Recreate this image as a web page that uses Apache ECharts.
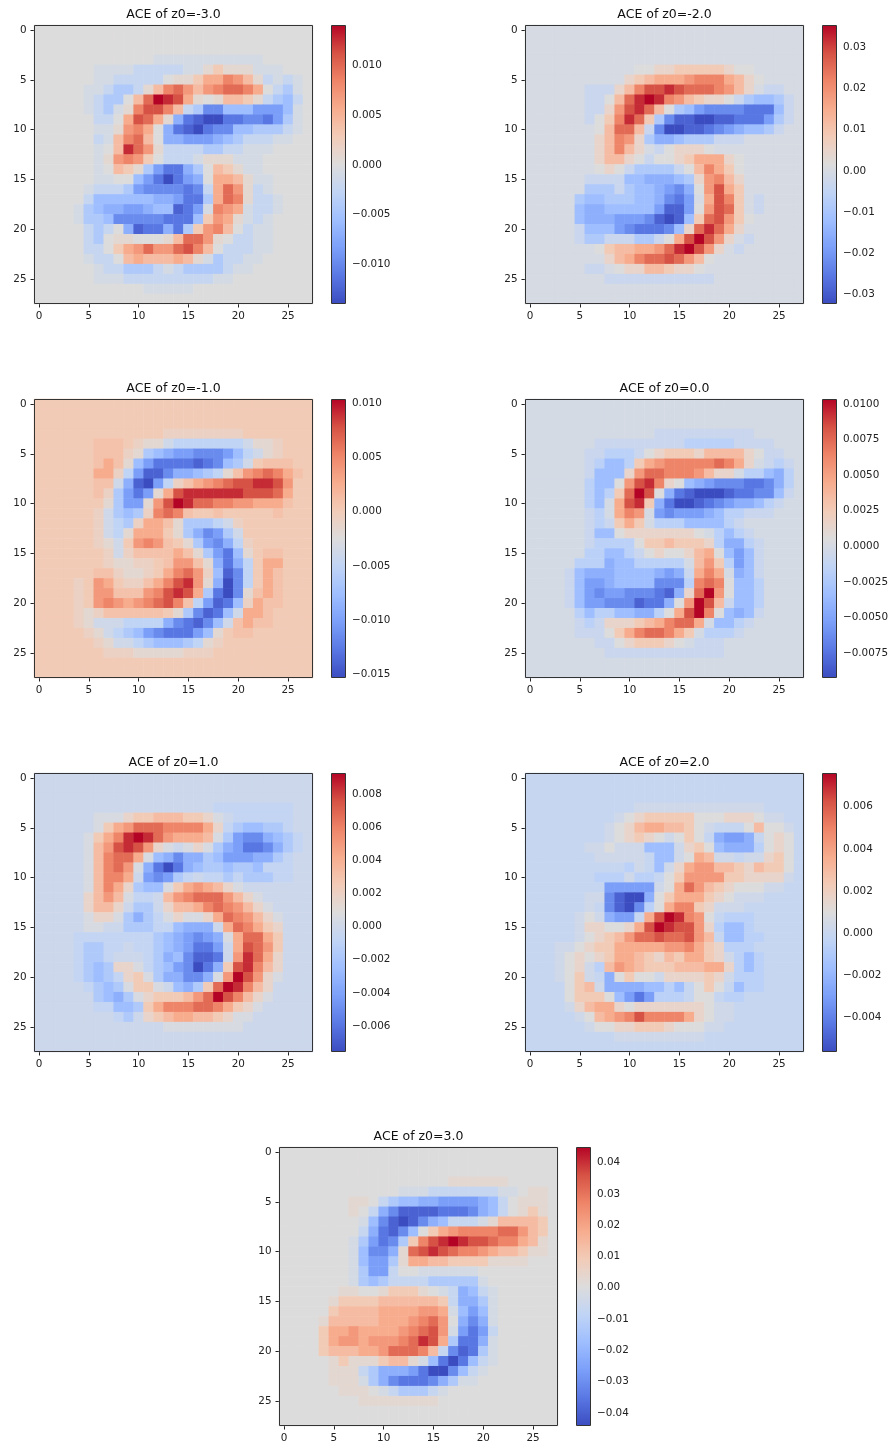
<!DOCTYPE html>
<html><head><meta charset="utf-8">
<style>html,body{margin:0;padding:0;background:#fff}#c{width:891px;height:1445px}</style>
<script src="https://cdn.jsdelivr.net/npm/echarts@6/dist/echarts.min.js"></script>
</head><body><div id="c"></div>
<script>
// Cell shades. A..U = 21 equal steps from each panel's colour-bar bottom to its top.
const rowsZm3 = ["","","",
"KKKKKKKKKKKKJJJJJJJJJJJKKKKK",
"KKKKKKJJJJIIIIIJJLMLLLJJJKKK",
"KKKKKKJJIIIIIKLLMOOQPNLIJIJK",
"KKKKKJJIHHILNQRPNPQRRQOKIHJK",
"KKKKKJIHHKNRUTSOLKLNNMLIHGIK",
"KKKKKJIHJLQSSQNIHDDGGGEEEGJK",
"KKKKKKIIKOSROLFCBAACCDDCEHJK",
"KKKKKKJJLPQOKFCBACDDGGHHHIJK",
"KKKKKKIJNQRNKFFEEEFGHIIIJJKK",
"KKKKKKJKNTRPLIIIIHHIIJJJKKKK",
"KKKKKKJLPQPMKIIIJLLLJJJKKKKK",
"KKKKKKJKNMLHECCFHKNMLJJKKKKK",
"KKKKKKJJKKGECACEFKOONLJJKKKK",
"KKKKKJIIIHEDDDDCDIORPLIJKKKK",
"KKKKKIGGGGGGFFECCHORQLIIJKKK",
"KKKKJHGFFEEFGGBCEJQPOJIIJKKK",
"KKKKJHHGDDDDDCCCGMPOLJIJKKKK",
"KKKKKIHIKFBCCFCHMPQNKIJJKKKK",
"KKKKKIHKLLKKKLNRRPLKIIJJKKKK",
"KKKKKIIKMOPRPPRSQNKIIIJJKKKK",
"KKKKKJIIKNONNNONLJHIIJJKKKKK",
"KKKKKKJIIHHHIJIHHHHIJJKKKKKK",
"KKKKKKJJJIIIIIIIIIJJKKKKKKKK",
"KKKKKKKKKKKJJJJJKKKKKKKKKKKK",
""];
const rowsZm2 = ["","","","",
"JJJJJJJJJJJKKLLMMMMMLKKJJJJJ",
"JJJJJJJJJJLMNOOOPQQQONLKJJJJ",
"JJJJJJIIILNQSSTSRRRQPNLJIIJJ",
"JJJJJJIIKNRTUTQPNMLLKIHGGHIJ",
"JJJJJJIILPSTRNKHGEDDDDCCCGIJ",
"JJJJJJIKMQTRMHDBBAABBCCCEHIJ",
"JJJJJJJKNRRNIDAABBCDEFGGHIJJ",
"JJJJJJJLNQPLHFFGHHHIIIJJJJJJ",
"JJJJJJJLNQNLJIKLLLKJJJJJJJJJ",
"JJJJJJJLNNLKIKKLMOOOLKJJJJJJ",
"JJJJJJJKLKIHHHHIKNQOMKJJJJJJ",
"JJJJJJIIIIGGFFFGHLPQNLJJJJJJ",
"JJJJJJHHHIHGGFEDFKPSOMJJJJJJ",
"JJJJJHGGHHHGGFDCEJOSQMJIJJJJ",
"JJJJJGFFGGGGGEBBEKPSRMJIJJJJ",
"JJJJJGFFFEEEDBABGMRSPMKJJJJJ",
"JJJJJIGGGEDCCCDGLRTROLJJJJJJ",
"JJJJJIHHIIIHHIKOSUSPLJIJJJJJ",
"JJJJJJJKMNNOOPRTUSPLJIJJJJJJ",
"JJJJJJJJLNOQRRSRPNKJJJJJJJJJ",
"JJJJJJIIJKLLNNMLLKJJJJJJJJJJ",
"JJJJJJJJIIIIIIIIIIIJJJJJJJJJ",
"",""];
const rowsZm1 = ["","","",
"MMMMMMMMMMMMMLLLLLLLLMMMMMMM",
"MMMMMMNNNMLKKJIIIIIIIJKKLMMM",
"MMMMMMNNNLKHGFEEDDDEGIJKLMMM",
"MMMMMMNONKGECCCCBCDGHJMNNNMM",
"MMMMMMOOLIEBBDFFGHIKNPQRQONM",
"MMMMMMNNJFBAEILNOPQRSSTTSPMM",
"MMMMMMNLHECEKOSTTTTTTSSSROMM",
"MMMMMMMKHEEKPSUTRRQQPPOOONMM",
"MMMMMMLJHGHLQRQNMMNMMMMMNMMM",
"MMMMMMLJIHLOONKHHHIJLMMMMMMM",
"MMMMMMLJIKOOOMKHFDEHJMMMMMMM",
"MMMMMMLKJMPQPNMKHEDFILMMMMMM",
"MMMMMMMLJLNNNNONKHECGKMNNMMM",
"MMMMMMMLKKLLMNPPNKFCFIMOOMMM",
"MMMMMMNNLKKLMOQRPLGBDIMONMMM",
"MMMMLMPOMLLNOQSTPKFADIMONMMM",
"MMMMLMPPNNNPQSTSOHCADKNONMMM",
"MMMMLMPQPOPQRSQNIEBCGLONNMMM",
"MMMMLKLNNNNNNMKHDBCGJOONMMMM",
"MMMMLKJJJIIIIFDCBDGJNONNMMMM",
"MMMMMLKJIHGEDCCCEGKMNNMMMMMM",
"MMMMMMLKJJIHGGGHIKLMMMMMMMMM",
"MMMMMMMLLLKKKKKLLLMMMMMMMMMM",
"",""];
const rowsZ0 = ["","","",
"JJJJJJJJJJJJJIIIIIIIIIIJJJJJ",
"JJJJJJJIIIIIIIIIHHHHHIIIIJJJ",
"JJJJJJIIHHHIKLMMMLNNNNLKIIJJ",
"JJJJJJIHGGHMOPQQQQQRQOLJIHIJ",
"JJJJJJIGGGLPRRQQQPNLLJHHGFHJ",
"JJJJJJHGGKPSTQLKGFEDDDCCDFHJ",
"JJJJJJHGHMRUSKFCBAAABCCDDGIJ",
"JJJJJJHGJOSTMFCAABCDEFFGHIJJ",
"JJJJJJIHJOQPJEDEEEFGHHIIIJJJ",
"JJJJJJIHIMOMJHHHGGGGHIJJJJJJ",
"JJJJJJIGGKLLLLLLLKJHGHIJJJJJ",
"JJJJJJIHHHHKMMNMMMLHFFHIJJJJ",
"JJJJJJHHGGHIKLKKLNOKGEGIJJJJ",
"JJJJJHHHFGGHHHHHJNPMHEGIJJJJ",
"JJJJIGFFFGGGGFEFIOQOJFGIJJJJ",
"JJJJIGEEFGGGGDDDHQRQKGGHJJJJ",
"JJJJIGEDEEDDDCBFLRUPKGGHJJJJ",
"JJJJIGEEDDDBCCFKPUSNIGGHJJJJ",
"JJJJJHGHHGGFFHKOSUQKGFGIJJJJ",
"JJJJJIHILLLMNOQRROJGGHIJJJJJ",
"JJJJJIIIKMOQRRQOMJHHHIJJJJJJ",
"JJJJJJJIIKLMMMLKJIIIJJJJJJJJ",
"JJJJJJJJIIIIIIIIIIIIJJJJJJJJ",
"",""];
const rowsZ1 = ["","","",
"JJJJJJJJJJJJJJJJJJIIIIIIIIJJ",
"JJJJJJKKKLMMNNNMMLKJIIIIIIJJ",
"JJJJJJKMOPRRRQQQQOLIHGGHHIJJ",
"JJJJJKMOQTUTRPOOONKHEDDFGHIJ",
"JJJJJKNPSTSPLKJKLKHFECCDFHIJ",
"JJJJJKNQRROKGFDFFHGEEEFFHIJJ",
"JJJJJKNQRPKFCACFGHHGHHGIIIJJ",
"JJJJJKNQQOJEDEHIJIIHIHHHIIJJ",
"JJJJJKNQOLHGGKMOPONLKJJJJJJJ",
"JJJJJLNPNKIIJNPQRRRPNLKJJJJJ",
"JJJJJLNNLJHHJLNNOQRQPNLKJJJJ",
"JJJJJKLLKHFHIKLKKLORQPNLKJJJ",
"JJJJJKKJJHHHIIGFFFJORQOMLJJJ",
"JJJJIIIIIIIIHGFEDEFKORROMJJJ",
"JJJJIHHIIJIIHGFECCEJOSRPMJJJ",
"JJJJIHHIJJJIHFGDBBCJPTROLJJJ",
"JJJJIHGHLLKIHGEDACFMSTQNLJJJ",
"JJJJIHGHILMKHFFDDFKPUSPLKJJJ",
"JJJJJIHGHKMMKJGFHMRUTQNLJJJJ",
"JJJJJJHGFHKLMMMNPRUSQNLKJJJJ",
"JJJJJJIIGGHMOQQQRRQOMLKJJJJJ",
"JJJJJJJJIHJLMNOONNMLKKJJJJJJ",
"JJJJJJJJJJJJJKKKKKKKKJJJJJJJ",
"",""];
const rowsZ2 = ["","","",
"IIIIIIIIIIIJJJJJJJJJJJJJIIII",
"IIIIIIIIIJKLMMMMMKKKLLLKJJII",
"IIIIIIIIJKLNOONNMKJIIIKNKKJI",
"IIIIIIIIJKLMLKJKMKIFEEFIKLKI",
"IIIIIIJJKJJJGGGJLMKGFFFHKLKI",
"IIIIIIIJJJJJIGGJKONJJIJJLMKI",
"IIIIIIIIIIHJIGJLOPPNNMLNMMKI",
"IIIIIIIHHHJHHIKMPPPPMMLLLLJI",
"IIIIIIIIEEEEEJKORPNMLKKKJJII",
"IIIIIIJJDBAAFKMOOOMLKJJJIIII",
"IIIIIIJIDBADHKOQQMLJJJIIIIII",
"IIIIIJKJFEEIOSUTQPKIHHHIIIII",
"IIIIIJLLKKLOSUTSSPLHGGHIIIII",
"IIIIIJKLMNPRRSRRSPNIGGHHIIII",
"IIIJJKLMMOOOOOPPQOMLHHHIIIII",
"IIIJKLKLMOONMLNMOOMLJHGHIIII",
"IIIJKLJHNPONMMMNNNOOLHGHIIII",
"IIIJKMJIFKMKKJLLLLMLJHHHIIII",
"IIIIKMNJFFFFGGHGIKMKIGHHIIII",
"IIIIKMMMKGECEHHHIKKIHHIIIIII",
"IIIIJLNOOLKLLLLLLLKJJIIIIIII",
"IIIIIJKNOPQSQQQQOLKJJIIIIIII",
"IIIIIIJKKLLMMMLKKKJJIIIIIIII",
"IIIIIIIIIJJJJJJJJJIIIIIIIIII",
""];
const rowsZ3 = ["","","",
"KKKKKKKKKKKKKKKKKLLLLLLKKKKK",
"KKKKKKKKKKKKJJJIIIIIIIJJKLLK",
"KKKKKKKLLKIHGGFFEEEEFGIKLLLK",
"KKKKKKKLKIFDBBBBCCCDFGIKLMLK",
"KKKKKKKKJGDBABDFGIIIJLNNNNMK",
"KKKKKKKKIFCBDGKMOPQQQQRRPNMK",
"KKKKKKKJHECDHMQSTUTSSRQQONLK",
"KKKKKKKJGDDFLRSTSRQQPONNMLLK",
"KKKKKKKJGEEHLOONNMMMMLLLLKKK",
"KKKKKKKJHEEIKKJJJJJJKKKKKKKK",
"KKKKKKKJHGHIIIIHHHHHJKKKKKKK",
"KKKKKKLLKKLMMMLKJIFGIJKKKKKK",
"KKKKKLMMMMNNNNNNMIFFHJKKKKKK",
"KKKKKMNNNNOOOOPPOJGEGJKKKKKK",
"KKKKLNNNNNOOOPQRPKFDFJKKKKKK",
"KKKKMOOPOOOOPQRSPJECEIKKKKKK",
"KKKKMOPPOPPPQRTSOHCCFJKKKKKK",
"KKKKMNNNOOPRRRQNIDBCHJKKKKKK",
"KKKKKLMLLLMNNLJGCACGIJKKKKKK",
"KKKKKLLLIHFFFECAADGIJKKKKKKK",
"KKKKKLLLJHFDCCCDFHJJKKKKKKKK",
"KKKKKKLLLKJIHHHIJKKKKKKKKKKK",
"KKKKKKKKLLLLLLLLKKKKKKKKKKKK",
"",""];
const titles = ["ACE of z0=-3.0","ACE of z0=-2.0","ACE of z0=-1.0","ACE of z0=0.0","ACE of z0=1.0","ACE of z0=2.0","ACE of z0=3.0"];
const panelRows = [rowsZm3,rowsZm2,rowsZm1,rowsZ0,rowsZ1,rowsZ2,rowsZ3];
const blanks = ["K","J","M","J","J","I","K"];
// Finer reading of the faint shades around each panel's background (fraction of the colour bar).
const faintShades = [
 {J:.47,L:.53,I:.42},
 {J:.475,I:.43,K:.5},
 {L:.565,N:.63,K:.53},
 {J:.47,I:.43,H:.385},
 {J:.44,I:.41,K:.48},
 {I:.42,J:.45,H:.385},
 {L:.53,J:.47,I:.42}];
const barMin = [-0.0140,-0.0324,-0.01537,-0.00926,-0.00758,-0.00565,-0.0442];
const barMax = [0.0141,0.0355,0.01043,0.01035,0.0093,0.0076,0.0450];
const barTicks = [
 [-0.010,-0.005,0,0.005,0.010],
 [-0.03,-0.02,-0.01,0,0.01,0.02,0.03],
 [-0.015,-0.010,-0.005,0,0.005,0.010],
 [-0.0075,-0.0050,-0.0025,0,0.0025,0.0050,0.0075,0.0100],
 [-0.006,-0.004,-0.002,0,0.002,0.004,0.006,0.008],
 [-0.004,-0.002,0,0.002,0.004,0.006],
 [-0.04,-0.03,-0.02,-0.01,0,0.01,0.02,0.03,0.04]];
const barDecimals = [3,2,3,4,3,3,2];
const coolwarm = ["#3b4cc0","#5977e3","#7b9ff9","#9ebeff","#c0d4f5","#dddcdc","#f2cbb7","#f7ac8e","#ee8468","#d65244","#b40426"];
const cats = Array.from({length:28},(_,i)=>String(i));

const ALPHA = "ABCDEFGHIJKLMNOPQRSTU";
const boxes = [[34,25],[525,25],[34,399],[525,399],[34,773],[525,773],[279,1147]];
const W = 279, H = 279, CBX = 297, CBW = 15;
const font = "'DejaVu Sans'";
const opt = {animation:false, backgroundColor:"#fff", title:[], grid:[], xAxis:[], yAxis:[], series:[], visualMap:[], graphic:[]};
const frame = (x,y,w,h)=>({type:'rect',z:100,silent:true,shape:{x:Math.round(x)+.5,y:Math.round(y)+.5,width:w-1,height:h-1},style:{fill:'none',stroke:'#333',lineWidth:1}});
titles.forEach((t,p)=>{
  const [L,T] = boxes[p], lo = barMin[p], hi = barMax[p];
  const data = [];
  for(let r=0;r<28;r++){
    const s = (panelRows[p][r]||"").padEnd(28,blanks[p]);
    for(let c=0;c<28;c++){
      const f = faintShades[p][s[c]] ?? ALPHA.indexOf(s[c])/20;
      data.push([c,r,lo+f*(hi-lo)]);
    }
  }
  opt.title.push({text:t,left:L+W/2,top:T-17,textAlign:'center',padding:0,textStyle:{fontFamily:font,fontSize:12.5,fontWeight:'normal',color:'#111'}});
  const gi = opt.grid.length;
  opt.grid.push({left:L,top:T,width:W,height:H});
  const xlab = {show:true,interval:4,fontFamily:font,fontSize:10.4,color:'#222',margin:7.5};
  const ylab = {show:true,interval:4,fontFamily:font,fontSize:10.4,color:'#222',margin:7.5,padding:[4,0,0,0]};
  opt.xAxis.push({type:'category',gridIndex:gi,data:cats,boundaryGap:true,position:'bottom',axisLine:{show:false},axisTick:{show:true,alignWithLabel:true,interval:4,length:3.5,lineStyle:{color:'#222'}},axisLabel:xlab,splitLine:{show:false},splitArea:{show:false}});
  opt.yAxis.push({type:'category',gridIndex:gi,data:cats,inverse:true,boundaryGap:true,axisLine:{show:false},axisTick:{show:true,alignWithLabel:true,interval:4,length:3.5,lineStyle:{color:'#222'}},axisLabel:ylab,splitLine:{show:false},splitArea:{show:false}});
  opt.series.push({type:'heatmap',name:t,xAxisIndex:gi,yAxisIndex:gi,data,progressive:0,itemStyle:{borderWidth:0},emphasis:{disabled:true}});
  // colour bar
  const bl = L+CBX, cbi = opt.grid.length;
  opt.grid.push({left:bl,top:T,width:CBW,height:H});
  opt.xAxis.push({type:'value',gridIndex:cbi,show:false,min:0,max:1});
  opt.yAxis.push({type:'value',gridIndex:cbi,position:'right',min:lo,max:hi,splitLine:{show:false},axisLine:{show:false},
    axisTick:{show:true,length:3.5,lineStyle:{color:'#222'},customValues:barTicks[p]},
    axisLabel:{show:true,fontFamily:font,fontSize:10.4,color:'#222',margin:6,padding:[4,0,0,0],customValues:barTicks[p],
      formatter:v=>{const d=barDecimals[p];const f=Math.abs(v).toFixed(d);return (v<-1e-9?'\u2212':'')+f;}}});
  opt.visualMap.push({type:'continuous',seriesIndex:opt.series.length-1,min:lo,max:hi,left:bl,top:T,itemWidth:CBW,itemHeight:H,padding:0,calculable:false,showLabel:false,text:null,hoverLink:false,realtime:false,inRange:{color:coolwarm}});
  opt.graphic.push(frame(L,T,W,H),frame(bl,T,CBW,H));
});
const chart = echarts.init(document.getElementById('c'),null,{renderer:'canvas'});
chart.setOption(opt);
</script></body></html>
